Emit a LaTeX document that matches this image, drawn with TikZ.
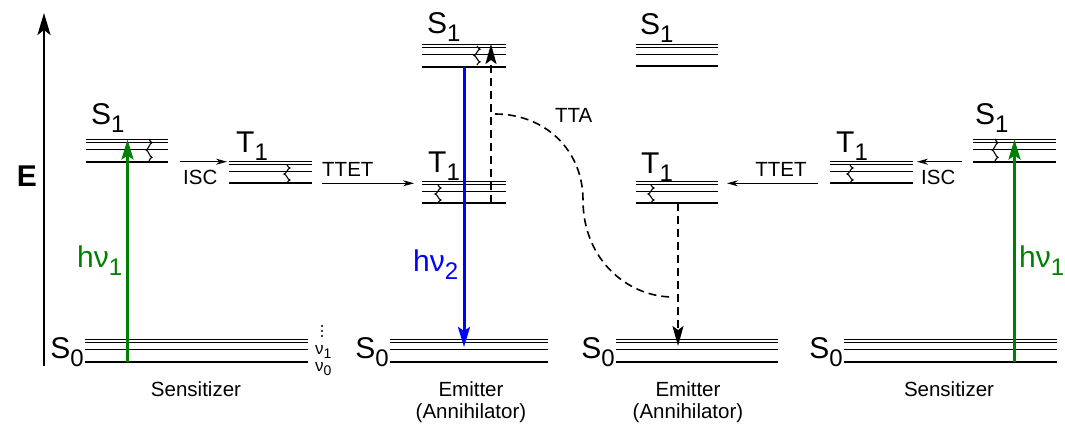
\documentclass[tikz,border=0pt]{standalone}
\usepackage{fontspec}
\setmainfont{Liberation Sans}
\usetikzlibrary{arrows.meta}
\newcommand{\lvlname}[2]{#1\raisebox{-8pt}{\fontsize{24}{24}\selectfont #2}}
\newcommand{\nuname}[2]{#1\raisebox{-4pt}{\fontsize{14}{14}\selectfont #2}}

\begin{document}
\begin{tikzpicture}[
    x=1pt, y=-1pt,
    big/.style={font=\fontsize{30}{30}\selectfont, inner sep=0pt},
    small/.style={font=\fontsize{20.5}{22}\selectfont, inner sep=0pt, align=center},
    thinlvl/.style={line width=0.9pt},
    thicklvl/.style={line width=2pt},
    wiggle/.style={line width=1.1pt},
    pump/.style={line width=3pt, green!50!black, -{Stealth[length=20pt, width=12pt, inset=4pt]}},
    emit/.style={line width=3pt, blue, -{Stealth[length=20pt, width=12pt, inset=4pt]}},
    xfer/.style={line width=0.9pt, -{Stealth[length=11pt, width=6pt]}},
    dashline/.style={line width=1.6pt, dash pattern=on 8pt off 5pt},
    dasharrow/.style={dashline, -{Stealth[length=20pt, width=11pt, inset=4pt]}}
]
\useasboundingbox (0,0) rectangle (1065,427);

% energy axis
\coordinate (axbot) at (44,366);
\coordinate (axtop) at (44,13);
\draw[line width=2.5pt, -{Stealth[length=22pt, width=13pt, inset=5pt]}] (axbot) -- (axtop);
\node[big, font=\fontsize{30}{30}\selectfont\bfseries] (lblE) at (27,176) {E};

% levels: x start / x end / y of the ground line
\foreach \xa/\xb/\yy in {85/308/361.7, 86/168/161.7, 229/312/183.3,
                         390/548/361.7, 422/506/203.3, 422/506/66.7,
                         616/778/361.7, 636/718/203.3, 636/718/66.3,
                         830/913/183.3, 973/1056/161.7, 844/1057/361.7}{
  \draw[thicklvl] (\xa,\yy) -- (\xb,\yy);
  \foreach \dd in {12,19,22}
    \draw[thinlvl] (\xa,\yy-\dd) -- (\xb,\yy-\dd);
}

% level names
\node[big, anchor=base east] (sLS0) at (84,359)  {\lvlname{S}{0}};
\node[big, anchor=base west] (sLS1) at (91,125)  {\lvlname{S}{1}};
\node[big, anchor=base west] (sLT1) at (236,153) {\lvlname{T}{1}};
\node[big, anchor=base east] (eLS0) at (389,359) {\lvlname{S}{0}};
\node[big, anchor=base west] (eLT1) at (428,173) {\lvlname{T}{1}};
\node[big, anchor=base west] (eLS1) at (427,34)  {\lvlname{S}{1}};
\node[big, anchor=base east] (eRS0) at (615,359) {\lvlname{S}{0}};
\node[big, anchor=base west] (eRT1) at (641,174) {\lvlname{T}{1}};
\node[big, anchor=base west] (eRS1) at (640,35)  {\lvlname{S}{1}};
\node[big, anchor=base west] (sRT1) at (836,153) {\lvlname{T}{1}};
\node[big, anchor=base west] (sRS1) at (975,125) {\lvlname{S}{1}};
\node[big, anchor=base east] (sRS0) at (843,359) {\lvlname{S}{0}};

% vibrational labels
\node[font=\fontsize{17}{17}\selectfont, inner sep=0pt, anchor=base west] (nu1) at (315,355) {\nuname{ν}{1}};
\node[font=\fontsize{17}{17}\selectfont, inner sep=0pt, anchor=base west] (nu0) at (315,371) {\nuname{ν}{0}};
\foreach \yy in {326,331,336}
  \fill (322,\yy) circle (1.1pt);

% relaxation: x / top / bottom
\foreach \wx/\wa/\wb in {149/139/161, 287/165/183, 477/46/65, 438/185/203,
                         651/185/203, 850/165/183, 995/139/161}{
  \pgfmathsetmacro\q{(\wb-\wa)/6}
  \draw[wiggle] (\wx,\wa) sin ++(3,\q) cos ++(-3,\q) sin ++(-3,\q)
                cos ++(3,\q) sin ++(3,\q) cos ++(-3,\q);
}

% absorption and emission
\coordinate (pumpLa) at (127.5,361.7);
\coordinate (pumpLb) at (127.5,139.5);
\coordinate (pumpRa) at (1014.5,361.7);
\coordinate (pumpRb) at (1014.5,139.5);
\coordinate (emitA)  at (464,66.7);
\coordinate (emitB)  at (464,347);
\draw[pump] (pumpLa) -- (pumpLb);
\draw[pump] (pumpRa) -- (pumpRb);
\draw[emit] (emitA) -- (emitB);
\node[big, green!50!black, anchor=base west] (hnuL) at (77,268)   {h\lvlname{ν}{1}};
\node[big, green!50!black, anchor=base west] (hnuR) at (1019,268) {h\lvlname{ν}{1}};
\node[big, blue, anchor=base west]           (hnuE) at (413,272)  {h\lvlname{ν}{2}};

% ISC and TTET
\coordinate (iscLa)  at (180,161.7);
\coordinate (iscLb)  at (227,161.7);
\coordinate (ttetLa) at (322,183.3);
\coordinate (ttetLb) at (414,183.3);
\coordinate (ttetRa) at (818,183.3);
\coordinate (ttetRb) at (727,183.3);
\coordinate (iscRa)  at (962,161.7);
\coordinate (iscRb)  at (917,161.7);
\draw[xfer] (iscLa) -- (iscLb);
\draw[xfer] (ttetLa) -- (ttetLb);
\draw[xfer] (ttetRa) -- (ttetRb);
\draw[xfer] (iscRa) -- (iscRb);
\node[small, anchor=base west] (iscL)  at (183,185) {ISC};
\node[small, anchor=base west] (ttetL) at (322,177) {TTET};
\node[small, anchor=base]      (ttetR) at (781,177) {TTET};
\node[small, anchor=base west] (iscR)  at (921,185) {ISC};

% TTA
\coordinate (ttaUpA) at (491,203.3);
\coordinate (ttaUpB) at (491,44);
\coordinate (ttaDnA) at (678,203.3);
\coordinate (ttaDnB) at (678,346);
\coordinate (ttaA)   at (495,114);
\coordinate (ttaB)   at (583,200);
\coordinate (ttaC)   at (673,297);
\draw[dasharrow] (ttaUpA) -- (ttaUpB);
\draw[dasharrow] (ttaDnA) -- (ttaDnB);
\draw[dashline] (ttaA) .. controls +(50,0) and +(0,-50) .. (ttaB)
                       .. controls +(0,60) and +(-45,0) .. (ttaC);
\node[small, anchor=base west] (ttaLbl) at (555,123) {TTA};

% molecule names
\node[small, anchor=base] (sensL) at (196,396) {Sensitizer};
\node[small, anchor=base] (emL)   at (471,418) {Emitter\\(Annihilator)};
\node[small, anchor=base] (emR)   at (688,418) {Emitter\\(Annihilator)};
\node[small, anchor=base] (sensR) at (949,396) {Sensitizer};
\end{tikzpicture}
\end{document}
